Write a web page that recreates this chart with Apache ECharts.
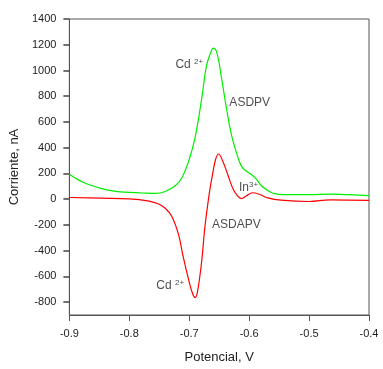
<!DOCTYPE html>
<html><head><meta charset="utf-8">
<script src="https://cdn.jsdelivr.net/npm/echarts@6/dist/echarts.min.js"></script>
<style>html,body{margin:0;padding:0;background:#fff}#c{width:383px;height:369px}</style>
</head><body><div id="c"></div>
<script>
const asdpvX = [-0.9,-0.877,-0.849,-0.822,-0.8,-0.778,-0.756,-0.74,-0.723,-0.712,-0.7,-0.69,-0.679,-0.671,-0.663,-0.66,-0.654,-0.646,-0.638,-0.63,-0.621,-0.613,-0.605,-0.597,-0.588,-0.58,-0.569,-0.558,-0.542,-0.5,-0.465,-0.437,-0.4];
const asdpvY = [194,131,86,60,53,48,45,60,106,169,308,484,787,1039,1153,1173,1140,938,711,509,358,257,219,194,156,106,68,43,35,35,40,35,28];
const asdapvX = [-0.9,-0.849,-0.8,-0.767,-0.751,-0.74,-0.729,-0.718,-0.71,-0.701,-0.694,-0.69,-0.686,-0.679,-0.674,-0.667,-0.661,-0.656,-0.651,-0.644,-0.635,-0.627,-0.619,-0.613,-0.605,-0.594,-0.583,-0.569,-0.547,-0.5,-0.465,-0.4];
const asdapvY = [13,8,3,-15,-38,-71,-134,-272,-449,-625,-739,-764,-714,-474,-222,30,194,308,351,295,182,81,23,5,25,50,38,10,-8,-18,-5,-10];
const yTicks = [-800,-600,-400,-200,0,200,400,600,800,1000,1200,1400];
const xTicks = [-0.9,-0.8,-0.7,-0.6,-0.5,-0.4];
const annotations = [
  {x:-0.723, y:1048, main:'Cd ', sup:'2+'},
  {x:-0.633, y:750, main:'ASDPV', sup:''},
  {x:-0.617, y:92, main:'In', sup:'3+'},
  {x:-0.662, y:-199, main:'ASDAPV', sup:''},
  {x:-0.755, y:-673, main:'Cd ', sup:'2+'}
];

const chart = echarts.init(document.getElementById('c'));
const font = 'Arial, "Liberation Sans", sans-serif';
const axisCol = '#444';
chart.setOption({
  animation:false,
  grid:{left:69,right:14,top:19,bottom:49.5,show:true,borderColor:'#555',borderWidth:1},
  xAxis:{type:'value',min:-0.9,max:-0.4,interval:0.1,
    name:'Potencial, V',nameLocation:'middle',nameGap:36,
    nameTextStyle:{fontFamily:font,fontSize:13,color:'#222'},
    axisLine:{show:true,onZero:false,lineStyle:{color:'#555',width:1}},
    axisTick:{show:true,inside:false,length:6,lineStyle:{color:'#555',width:1}},
    axisLabel:{fontFamily:font,fontSize:11,color:'#222',margin:13,formatter:v=>v.toFixed(1)},
    splitLine:{show:false}},
  yAxis:{type:'value',min:-900,max:1400,
    name:'Corriente, nA',nameLocation:'middle',nameGap:47,
    nameTextStyle:{fontFamily:font,fontSize:13,color:'#222'},
    axisLine:{show:true,onZero:false,lineStyle:{color:'#555',width:1}},
    axisTick:{show:true,inside:false,length:6,lineStyle:{color:axisCol,width:1.5},customValues:yTicks},
    axisLabel:{customValues:yTicks,fontFamily:font,fontSize:11,color:'#222',margin:13,formatter:v=>String(v)},
    splitLine:{show:false}},
  series:[
    {type:'line',name:'ASDPV',data:asdpvX.map((x,i)=>[x,asdpvY[i]]),smooth:0.4,showSymbol:false,
     lineStyle:{color:'#00ee00',width:1.2}},
    {type:'line',name:'ASDAPV',data:asdapvX.map((x,i)=>[x,asdapvY[i]]),smooth:0.4,showSymbol:false,
     lineStyle:{color:'#ff0000',width:1.2}},
    {type:'scatter',symbolSize:0,silent:true,
     data:annotations.map(a=>({value:[a.x,a.y],label:{show:true,position:'right',distance:0,
        formatter:'{m|'+a.main+'}'+(a.sup?'{s|'+a.sup+'}':'')}})),
     label:{rich:{m:{fontFamily:font,fontSize:12,color:'#222',lineHeight:14},
                  s:{fontFamily:font,fontSize:8,color:'#222',verticalAlign:'top',lineHeight:14,padding:[0,0,6,0]}}}}
  ]
});
</script></body></html>
